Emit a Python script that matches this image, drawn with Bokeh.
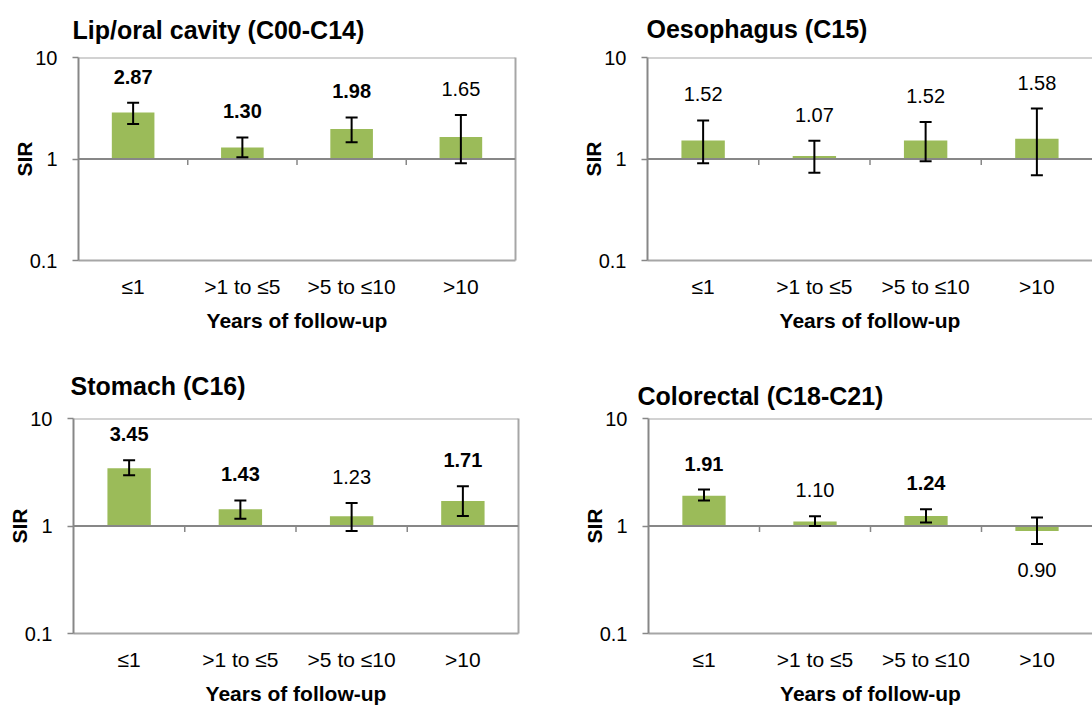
from bokeh.plotting import figure
from bokeh.models import (ColumnDataSource, FactorRange, Range1d, FixedTicker,
                          CustomJSTickFormatter, Whisker, TeeHead, Span, LogAxis)
from bokeh.layouts import column, row
from bokeh.embed import file_html
from bokeh.resources import INLINE
from bokeh.core.properties import value

# ---------------- data ----------------
categories = ["≤1", ">1 to ≤5", ">5 to ≤10", ">10"]
y_ticks = [0.1, 1, 10]
x_title = "Years of follow-up"
y_title = "SIR"

lip_title = "Lip/oral cavity (C00-C14)"
lip_sir = [2.87, 1.30, 1.98, 1.65]
lip_lo = [2.21, 1.04, 1.46, 0.91]
lip_hi = [3.59, 1.63, 2.57, 2.71]
lip_sig = [True, True, True, False]

oes_title = "Oesophagus (C15)"
oes_sir = [1.52, 1.07, 1.52, 1.58]
oes_lo = [0.91, 0.73, 0.95, 0.69]
oes_hi = [2.40, 1.51, 2.31, 3.14]
oes_sig = [False, False, False, False]

sto_title = "Stomach (C16)"
sto_sir = [3.45, 1.43, 1.23, 1.71]
sto_lo = [2.96, 1.17, 0.90, 1.24]
sto_hi = [4.08, 1.73, 1.64, 2.34]
sto_sig = [True, True, False, True]

col_title = "Colorectal (C18-C21)"
col_sir = [1.91, 1.10, 1.24, 0.90]
col_lo = [1.73, 1.00, 1.08, 0.68]
col_hi = [2.18, 1.23, 1.43, 1.20]
col_sig = [True, False, True, False]

# ---------------- style ----------------
FONT = "Liberation Sans"
GREEN = "#9BBB59"
AXIS_GRAY = "#878787"
FRAME_GRAY = "#A6A6A6"
LABEL_GAP = 26


def make_panel(title, sir, lo, hi, sig, width, height, bl, br, bt, bb,
               t_off, t_standoff, t_valign, right_border):
    frame_h = height - bt - bb
    p = figure(width=width, height=height,
               x_range=FactorRange(*categories),
               y_range=Range1d(y_ticks[0], y_ticks[-1]),
               y_axis_type="log", output_backend="svg", toolbar_location=None,
               min_border_left=bl, min_border_right=br,
               min_border_top=bt, min_border_bottom=bb)
    p.outline_line_color = None
    p.grid.visible = False
    p.background_fill_color = "white"
    p.border_fill_color = "white"

    # title
    p.title.text = title
    p.title.text_font = FONT
    p.title.text_font_size = "25px"
    p.title.text_font_style = "bold"
    p.title.text_color = "black"
    p.title.align = "left"
    p.title.vertical_align = t_valign
    p.title.offset = t_off
    p.title.standoff = t_standoff

    # y axis
    yax = p.yaxis[0]
    yax.ticker = FixedTicker(ticks=y_ticks)
    yax.formatter = CustomJSTickFormatter(code="return tick.toString();")
    yax.minor_tick_line_color = None
    yax.major_tick_out = 6
    yax.major_tick_in = 0
    yax.major_tick_line_color = AXIS_GRAY
    yax.major_tick_line_width = 1.5
    yax.axis_line_color = AXIS_GRAY
    yax.axis_line_width = 2
    yax.major_label_text_font = FONT
    yax.major_label_text_font_size = "20px"
    yax.major_label_text_color = "black"
    yax.major_label_standoff = 15
    yax.axis_label = y_title
    yax.axis_label_text_font = FONT
    yax.axis_label_text_font_size = "21px"
    yax.axis_label_text_font_style = "bold"
    yax.axis_label_text_color = "black"
    yax.axis_label_standoff = -9

    # x axis (category labels below the plot area)
    xax = p.xaxis[0]
    xax.major_tick_line_color = None
    xax.axis_line_color = FRAME_GRAY
    xax.axis_line_width = 2
    xax.major_label_text_font = FONT
    xax.major_label_text_font_size = "21px"
    xax.major_label_text_color = "black"
    xax.major_label_standoff = 8
    xax.axis_label = x_title
    xax.axis_label_text_font = FONT
    xax.axis_label_text_font_size = "21px"
    xax.axis_label_text_font_style = "bold"
    xax.axis_label_text_color = "black"
    xax.axis_label_standoff = 8

    # frame border lines (top, and right when visible)
    p.add_layout(Span(location=y_ticks[-1], dimension="width",
                      line_color=FRAME_GRAY, line_width=2))
    if right_border:
        p.add_layout(LogAxis(ticker=FixedTicker(ticks=[]), major_tick_line_color=None,
                             minor_tick_line_color=None, major_tick_out=0,
                             major_tick_in=0, major_label_standoff=0,
                             axis_line_color=FRAME_GRAY, axis_line_width=2), "right")

    up = [v >= 1 for v in sir]
    src = ColumnDataSource(dict(cat=categories, sir=sir, lo=lo, hi=hi))
    p.vbar(x="cat", top="sir", bottom=1, width=0.39, source=src,
           fill_color=GREEN, line_color=None)

    # horizontal axis crossing at 1 with tick marks at category boundaries
    p.add_layout(Span(location=1, dimension="width", line_color=AXIS_GRAY, line_width=2))
    px_per_decade = frame_h / 2.0
    tick_end = 10 ** (-6.0 / px_per_decade)
    bounds = list(range(1, len(categories)))
    p.segment(x0=bounds, y0=[1] * len(bounds), x1=bounds, y1=[tick_end] * len(bounds),
              line_color=AXIS_GRAY, line_width=1.5)

    p.add_layout(Whisker(base="cat", upper="hi", lower="lo", source=src,
                         level="overlay", line_color="black", line_width=2,
                         upper_head=TeeHead(size=12, line_color="black", line_width=2),
                         lower_head=TeeHead(size=12, line_color="black", line_width=2)))

    for bold in (True, False):
        idx = [i for i in range(len(sir)) if sig[i] == bold]
        lsrc = ColumnDataSource(dict(
            x=[categories[i] for i in idx],
            y=[hi[i] if up[i] else lo[i] for i in idx],
            off=[-LABEL_GAP if up[i] else LABEL_GAP for i in idx],
            t=["%.2f" % sir[i] for i in idx]))
        p.text(x="x", y="y", text="t", y_offset="off", source=lsrc,
               text_align="center", text_baseline="middle",
               text_font=value(FONT), text_font_size="20px",
               text_font_style="bold" if bold else "normal", text_color="black")
    return p


p1 = make_panel(lip_title, lip_sir, lip_lo, lip_hi, lip_sig,
                560, 350, 78, 45, 57, 90, -6, 24, "top", True)
p2 = make_panel(oes_title, oes_sir, oes_lo, oes_hi, oes_sig,
                532, 350, 87, 0, 56, 89, -1, 25, "top", False)
p3 = make_panel(sto_title, sto_sir, sto_lo, sto_hi, sto_sig,
                560, 357, 73, 42, 68, 74, -3, 38, "bottom", True)
p4 = make_panel(col_title, col_sir, col_lo, col_hi, col_sig,
                532, 357, 88, 0, 68, 70, -11, 18, "bottom", False)

layout = column(row(p1, p2), row(p3, p4))
open("out.html", "w").write(file_html(layout, INLINE))
